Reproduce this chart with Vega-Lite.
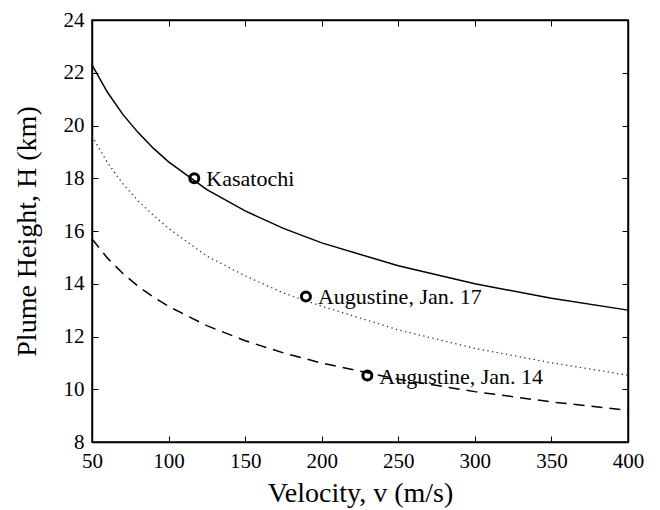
{
  "$schema": "https://vega.github.io/schema/vega-lite/v6.json",
  "width": 536,
  "height": 422,
  "autosize": "none",
  "padding": {"left": 92, "top": 20, "right": 32, "bottom": 68},
  "background": "white",
  "config": {
    "view": {"stroke": "black", "strokeWidth": 1.5},
    "axis": {
      "domainColor": "black", "domainWidth": 1.5,
      "tickColor": "black", "tickWidth": 1, "tickSize": -6,
      "grid": false, "labelFlush": false, "labelOverlap": false,
      "labelFont": "Liberation Serif", "labelFontSize": 21, "labelColor": "black",
      "titleFont": "Liberation Serif", "titleFontSize": 28, "titleFontWeight": "normal", "titleColor": "black"
    }
  },
  "datasets": {
    "curves": [
      {"v": 50, "H": 22.3, "series": "solid"},
      {"v": 60, "H": 21.27, "series": "solid"},
      {"v": 70, "H": 20.43, "series": "solid"},
      {"v": 80, "H": 19.74, "series": "solid"},
      {"v": 90, "H": 19.14, "series": "solid"},
      {"v": 100, "H": 18.62, "series": "solid"},
      {"v": 125, "H": 17.57, "series": "solid"},
      {"v": 150, "H": 16.76, "series": "solid"},
      {"v": 175, "H": 16.1, "series": "solid"},
      {"v": 200, "H": 15.55, "series": "solid"},
      {"v": 250, "H": 14.68, "series": "solid"},
      {"v": 300, "H": 14.0, "series": "solid"},
      {"v": 350, "H": 13.45, "series": "solid"},
      {"v": 400, "H": 13.0, "series": "solid"},
      {"v": 50, "H": 19.6, "series": "dotted"},
      {"v": 60, "H": 18.6, "series": "dotted"},
      {"v": 70, "H": 17.8, "series": "dotted"},
      {"v": 80, "H": 17.15, "series": "dotted"},
      {"v": 90, "H": 16.6, "series": "dotted"},
      {"v": 100, "H": 16.1, "series": "dotted"},
      {"v": 125, "H": 15.05, "series": "dotted"},
      {"v": 150, "H": 14.3, "series": "dotted"},
      {"v": 175, "H": 13.65, "series": "dotted"},
      {"v": 200, "H": 13.15, "series": "dotted"},
      {"v": 250, "H": 12.25, "series": "dotted"},
      {"v": 300, "H": 11.55, "series": "dotted"},
      {"v": 350, "H": 11.0, "series": "dotted"},
      {"v": 400, "H": 10.53, "series": "dotted"},
      {"v": 50, "H": 15.7, "series": "dashed"},
      {"v": 60, "H": 14.98, "series": "dashed"},
      {"v": 70, "H": 14.4, "series": "dashed"},
      {"v": 80, "H": 13.91, "series": "dashed"},
      {"v": 90, "H": 13.5, "series": "dashed"},
      {"v": 100, "H": 13.14, "series": "dashed"},
      {"v": 125, "H": 12.41, "series": "dashed"},
      {"v": 150, "H": 11.84, "series": "dashed"},
      {"v": 175, "H": 11.38, "series": "dashed"},
      {"v": 200, "H": 10.99, "series": "dashed"},
      {"v": 250, "H": 10.38, "series": "dashed"},
      {"v": 300, "H": 9.91, "series": "dashed"},
      {"v": 350, "H": 9.52, "series": "dashed"},
      {"v": 400, "H": 9.2, "series": "dashed"}
    ],
    "events": [
      {"v": 116.8, "H": 18.0, "name": "Kasatochi"},
      {"v": 189.7, "H": 13.52, "name": "Augustine, Jan. 17"},
      {"v": 229.8, "H": 10.52, "name": "Augustine, Jan. 14"}
    ]
  },
  "resolve": {"axis": {"x": "independent", "y": "independent"}},
  "layer": [
    {
      "data": {"name": "curves"},
      "transform": [{"filter": "datum.series === 'solid'"}],
      "mark": {"type": "line", "color": "black", "strokeWidth": 1.5},
      "encoding": {
        "x": {"field": "v", "type": "quantitative", "scale": {"domain": [50, 400], "nice": false},
              "axis": {"orient": "bottom", "values": [50,100,150,200,250,300,350,400], "title": "Velocity, v (m/s)", "labelPadding": 14, "titlePadding": 8}},
        "y": {"field": "H", "type": "quantitative", "scale": {"domain": [8, 24], "nice": false, "zero": false},
              "axis": {"orient": "left", "values": [8,10,12,14,16,18,20,22,24], "title": "Plume Height, H (km)", "labelPadding": 14, "titlePadding": 22}}
      }
    },
    {
      "data": {"name": "curves"},
      "transform": [{"filter": "datum.series === 'dotted'"}],
      "mark": {"type": "line", "color": "#333333", "strokeWidth": 1.3, "strokeDash": [1.3, 3.4]},
      "encoding": {
        "x": {"field": "v", "type": "quantitative", "axis": null},
        "y": {"field": "H", "type": "quantitative", "axis": null}
      }
    },
    {
      "data": {"name": "curves"},
      "transform": [{"filter": "datum.series === 'dashed'"}],
      "mark": {"type": "line", "color": "black", "strokeWidth": 1.5, "strokeDash": [11, 7]},
      "encoding": {
        "x": {"field": "v", "type": "quantitative", "axis": null},
        "y": {"field": "H", "type": "quantitative", "axis": null}
      }
    },
    {
      "data": {"name": "events"},
      "mark": {"type": "point", "shape": "circle", "filled": false, "color": "black", "strokeWidth": 3, "size": 81, "opacity": 1},
      "encoding": {
        "x": {"field": "v", "type": "quantitative",
              "axis": {"orient": "top", "values": [50,100,150,200,250,300,350,400], "labels": false, "title": null}},
        "y": {"field": "H", "type": "quantitative",
              "axis": {"orient": "right", "values": [8,10,12,14,16,18,20,22,24], "labels": false, "title": null}}
      }
    },
    {
      "data": {"name": "events"},
      "mark": {"type": "text", "align": "left", "baseline": "middle", "dx": 12, "dy": 1, "font": "Liberation Serif", "fontSize": 22, "color": "black"},
      "encoding": {
        "x": {"field": "v", "type": "quantitative", "axis": null},
        "y": {"field": "H", "type": "quantitative", "axis": null},
        "text": {"field": "name"}
      }
    }
  ]
}
